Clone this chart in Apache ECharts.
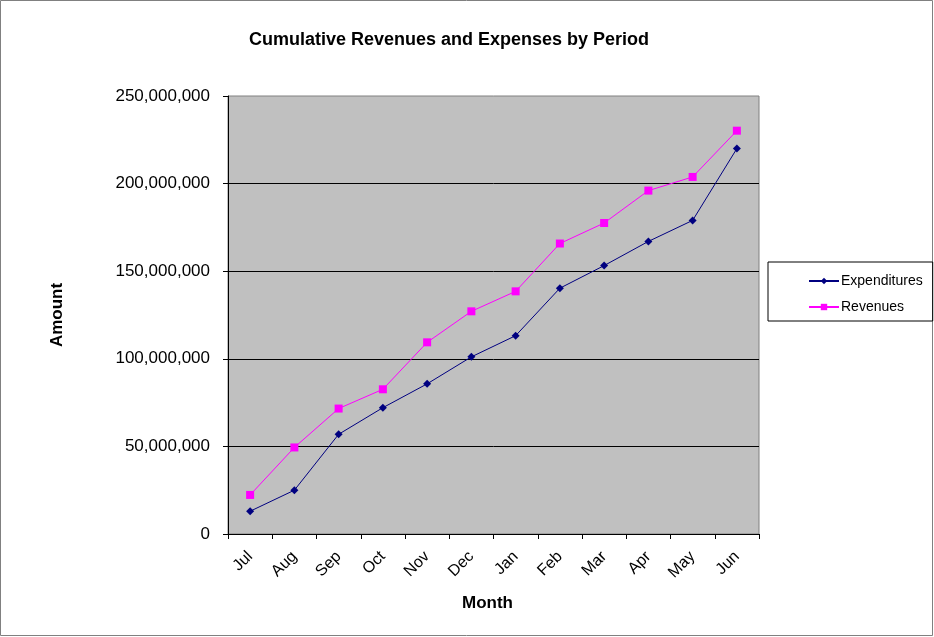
<!DOCTYPE html>
<html>
<head>
<meta charset="utf-8">
<script src="https://cdn.jsdelivr.net/npm/echarts@6/dist/echarts.min.js"></script>
<style>
  html, body { margin: 0; padding: 0; background: #fff; }
  #demo { width: 934px; height: 637px; }
</style>
</head>
<body>
<div id="demo"></div>
<script>
// data
var months = ['Jul', 'Aug', 'Sep', 'Oct', 'Nov', 'Dec', 'Jan', 'Feb', 'Mar', 'Apr', 'May', 'Jun'];
var expenditures = [13000000, 25000000, 56900000, 72100000, 85700000, 101100000, 113200000, 140300000, 153200000, 167000000, 179000000, 220000000];
var revenues = [22300000, 49400000, 71600000, 82600000, 109400000, 127100000, 138500000, 165800000, 177500000, 196000000, 203800000, 230200000];

var myChart = echarts.init(document.getElementById('demo'));

var font = 'Liberation Sans, Arial, sans-serif';

option = {
    backgroundColor: '#fff',
    animation: false,
    title: {
        text: 'Cumulative Revenues and Expenses by Period',
        left: 444,
        top: 26,
        textAlign: 'center',
        textStyle: { fontFamily: font, fontSize: 18, fontWeight: 'bold', color: '#000' }
    },
    graphic: [
        {
            type: 'rect',
            shape: { x: 0.5, y: 0.5, width: 932, height: 635 },
            style: { fill: null, stroke: '#808080', lineWidth: 1 },
            silent: true
        }
    ],
    legend: {
        orient: 'vertical',
        left: 768,
        top: 262,
        padding: [12, 10, 7, 40],
        borderColor: '#000',
        borderWidth: 1,
        itemWidth: 30,
        itemHeight: 8,
        itemGap: 12,
        textStyle: { fontFamily: font, fontSize: 14, color: '#000', padding: [0, 0, 0, -3] },
        data: ['Expenditures', 'Revenues']
    },
    grid: {
        left: 228,
        right: 175,
        top: 96,
        bottom: 103,
        show: true,
        backgroundColor: '#C0C0C0',
        borderColor: '#808080',
        borderWidth: 1
    },
    xAxis: {
        type: 'category',
        data: months,
        boundaryGap: true,
        name: 'Month',
        nameLocation: 'middle',
        nameGap: 61,
        nameTextStyle: { fontFamily: font, fontSize: 17, fontWeight: 'bold', color: '#000', padding: [0, 12, 0, 0] },
        axisLine: { lineStyle: { color: '#000', width: 1 } },
        axisTick: { show: true, length: 5, lineStyle: { color: '#000' } },
        axisLabel: {
            interval: 0,
            rotate: 45,
            margin: 20,
            fontFamily: font,
            fontSize: 16,
            color: '#000'
        },
        splitLine: { show: false }
    },
    yAxis: {
        type: 'value',
        min: 0,
        max: 250000000,
        interval: 50000000,
        name: 'Amount',
        nameLocation: 'middle',
        nameGap: 162,
        nameRotate: 90,
        nameTextStyle: { fontFamily: font, fontSize: 17, fontWeight: 'bold', color: '#000' },
        axisLine: { show: true, lineStyle: { color: '#000', width: 1 } },
        axisTick: { show: true, length: 5, lineStyle: { color: '#000' } },
        axisLabel: {
            margin: 18,
            fontFamily: font,
            fontSize: 17,
            color: '#000',
            formatter: function (v) {
                return v.toString().replace(/\B(?=(\d{3})+(?!\d))/g, ',');
            }
        },
        splitLine: {
            show: true,
            showMaxLine: false,
            lineStyle: { color: '#000', width: 1 }
        }
    },
    series: [
        {
            name: 'Expenditures',
            type: 'line',
            data: expenditures,
            color: '#000080',
            symbol: 'diamond',
            symbolSize: 8,
            lineStyle: { width: 1, color: '#000080' },
            itemStyle: { color: '#000080' }
        },
        {
            name: 'Revenues',
            type: 'line',
            data: revenues,
            color: '#FF00FF',
            symbol: 'rect',
            symbolSize: 8,
            lineStyle: { width: 1, color: '#FF00FF' },
            itemStyle: { color: '#FF00FF' }
        }
    ]
};

myChart.setOption(option);
</script>
</body>
</html>
